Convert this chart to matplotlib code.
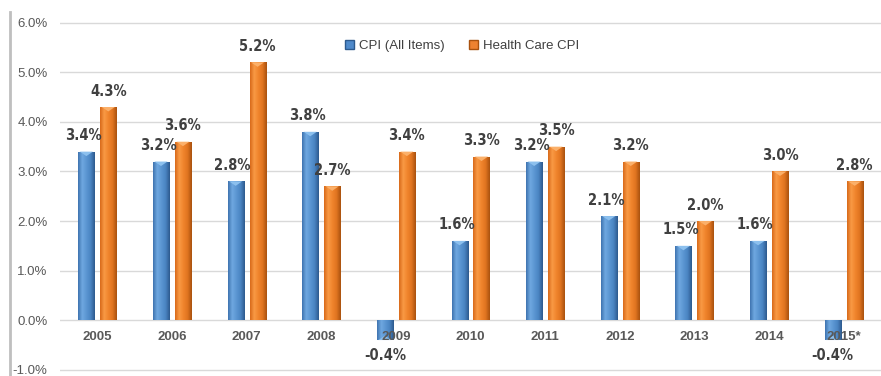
import numpy as np
import matplotlib.pyplot as plt
from matplotlib.patches import Rectangle, Patch
from matplotlib.colors import LinearSegmentedColormap
from matplotlib.lines import Line2D

years = ["2005", "2006", "2007", "2008", "2009", "2010",
         "2011", "2012", "2013", "2014", "2015*"]
cpi_all = [3.4, 3.2, 2.8, 3.8, -0.4, 1.6, 3.2, 2.1, 1.5, 1.6, -0.4]
cpi_health = [4.3, 3.6, 5.2, 2.7, 3.4, 3.3, 3.5, 3.2, 2.0, 3.0, 2.8]

W, H = 881, 376
fig = plt.figure(figsize=(W / 100, H / 100), dpi=100)
ax = fig.add_axes([60 / W, 0, 1 - 60 / W, 1])

for s in ax.spines.values():
    s.set_visible(False)
ax.set_yticks(np.arange(-1, 7, 1))
ax.set_yticklabels([f"{v:.1f}%" for v in np.arange(-1, 7, 1)],
                   fontsize=9.5, color="#595959", family="Liberation Sans")
ax.tick_params(axis="y", length=0, pad=9)
ax.set_xticks([])
ax.grid(axis="y", color="#d9d9d9", lw=1)
ax.set_axisbelow(True)

blue_cm = LinearSegmentedColormap.from_list(
    "b", ["#3f74b0", "#6fa8e0", "#5b96d2", "#4a84c2", "#2d5a8e"])
orange_cm = LinearSegmentedColormap.from_list(
    "o", ["#d86a1a", "#f99a45", "#f0842c", "#e07420", "#a9520f"])
grad = np.linspace(0, 1, 64).reshape(1, -1)

bw = 0.215
off = 0.147
lbl_font = dict(fontsize=10.5, fontweight="bold", color="#404040",
                family="DejaVu Sans", fontstretch="condensed")


def draw_bar(x, v, cmap, cap):
    y0, y1 = min(0, v), max(0, v)
    rect = Rectangle((x - bw / 2, y0), bw, y1 - y0, facecolor="none",
                     edgecolor="none")
    ax.add_patch(rect)
    im = ax.imshow(grad, cmap=cmap, aspect="auto",
                   extent=(x - bw / 2, x + bw / 2, y0, y1), zorder=3)
    im.set_clip_path(rect)
    # lighter bevel on the outer end of the bar, pointing inwards
    end, d = (y1, -0.09) if v >= 0 else (y0, 0.09)
    ax.fill([x - bw / 2 + 0.02, x + bw / 2 - 0.02, x],
            [end, end, end + d], color=cap, zorder=4, lw=0)


for i, (a, h) in enumerate(zip(cpi_all, cpi_health)):
    draw_bar(i - off, a, blue_cm, "#8cc0ee")
    draw_bar(i + off, h, orange_cm, "#fbb06a")
    if a >= 0:
        ax.text(i - off - 0.04, a + 0.17, f"{a:.1f}%", ha="center",
                va="bottom", **lbl_font)
    else:
        ax.text(i - off, -0.71, f"{a:.1f}%", ha="center", va="center",
                **lbl_font)
    ax.text(i + off, h + 0.17, f"{h:.1f}%", ha="center", va="bottom",
            **lbl_font)
    ax.text(i, -0.33, years[i], ha="center", va="center", fontsize=9.5,
            fontweight="bold", color="#595959", family="Liberation Sans",
            zorder=5)

ax.set_xlim(-0.5, len(years) - 0.5)
ax.set_ylim(-1.125, 6.458)

# left border of the chart area
fig.add_artist(Line2D([10 / W, 10 / W], [0, 1 - 12 / H],
                      transform=fig.transFigure, color="#bfbfbf", lw=2))

handles = [Patch(facecolor="#4f8acb", edgecolor="#2d5a8e"),
           Patch(facecolor="#ee8230", edgecolor="#a9520f")]
fig.legend(handles, ["CPI (All Items)", "Health Care CPI"], loc="center",
           bbox_to_anchor=(462 / W, 1 - 46 / H), ncol=2, frameon=False,
           handlelength=0.7, handleheight=0.7, handletextpad=0.4,
           columnspacing=1.8, prop=dict(family="Liberation Sans", size=9.5),
           labelcolor="#404040")

fig.savefig("out.png", dpi=100)
